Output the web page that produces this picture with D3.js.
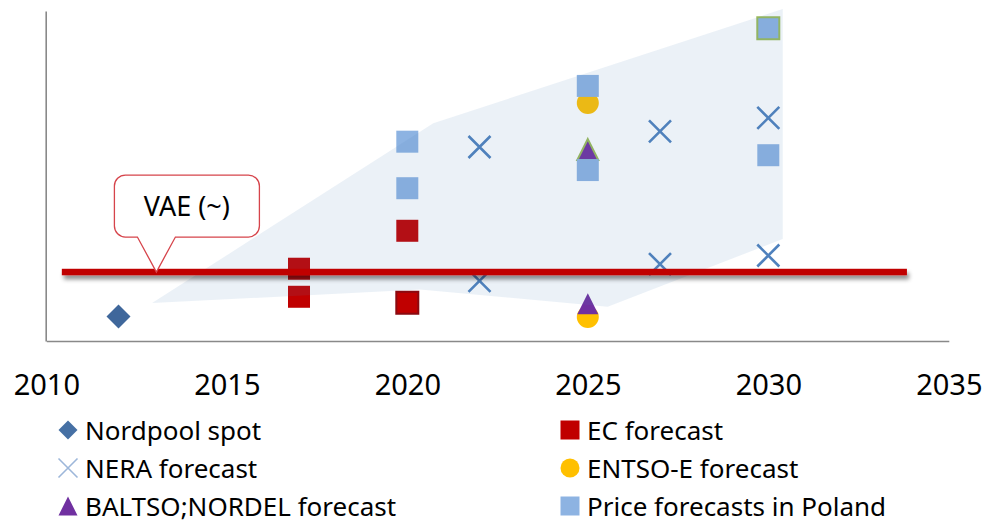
<!DOCTYPE html>
<html>
<head>
<meta charset="utf-8">
<script src="https://cdn.jsdelivr.net/npm/d3@7"></script>
<style>
  body { margin: 0; background: #fff; }
  text { font-family: "Noto Sans", sans-serif; fill: #000; }
</style>
</head>
<body>
<div id="container"></div>
<script>
'use strict'
// data (years on x, price level on y - no y labels shown in the original)
const xTicks = [2010, 2015, 2020, 2025, 2030, 2035];
const seriesNames = ["Nordpool spot", "EC forecast", "NERA forecast", "ENTSO-E forecast", "BALTSO;NORDEL forecast", "Price forecasts in Poland"];
const nordpool = [[2012, 7.4]];
const ecForecast = [[2017, 21.9], [2017, 13.4], [2020, 33.4], [2020, 11.6]];
const neraForecast = [[2022, 58.8], [2022, 18.2], [2027, 63.5], [2027, 23.3], [2030, 67.6], [2030, 25.9]];
const entsoeForecast = [[2025, 72.1], [2025, 7.3]];
const baltsoForecast = [[2025, 58.0], [2025, 11.3]];
const polandForecast = [[2020, 60.4], [2020, 46.3], [2025, 77.3], [2025, 51.8], [2030, 94.8], [2030, 56.3]];
const vaeLevel = 20.9;
const vaeSpan = [2010.43, 2033.84];
const vaeLabel = "VAE (~)";
const rangeBand = [[2012.93, 11.5], [2020.72, 66.0], [2030.4, 100.6], [2030.4, 30.9], [2025.55, 10.4], [2020.35, 15.6]];

const w = 990;
const h = 524;

const svg = d3.select("#container")
              .append("svg")
              .attr("width", w)
              .attr("height", h);

//Scales
const xScale = d3.scaleLinear().domain([2010, 2035]).range([46.3, 948.8]);
const yScale = d3.scaleLinear().domain([0, 100]).range([341, 11]);

//marker shapes, centred on 0,0
function shape(kind, s) {
    if (kind === "square") return `M${-s},${-s}h${2*s}v${2*s}h${-2*s}Z`;
    if (kind === "diamond") return `M0,${-s}L${s},0L0,${s}L${-s},0Z`;
    if (kind === "triangle") return `M0,${-s}L${s},${s}L${-s},${s}Z`;
    if (kind === "x") return `M${-s},${-s}L${s},${s}M${s},${-s}L${-s},${s}`;
    return d3.arc()({innerRadius: 0, outerRadius: s, startAngle: 0, endAngle: 2 * Math.PI});
}

const series = [
    {data: nordpool,       kind: "diamond",  size: 12,   fill: "#3F679B", legendFill: "#4670A4"},
    {data: ecForecast,     kind: "square",   size: 11,   fill: "#C00000", legendFill: "#C00000"},
    {data: neraForecast,   kind: "x",        size: 11,   stroke: "#4F81BD", legendStroke: "#9DB7DA"},
    {data: entsoeForecast, kind: "circle",   size: 11,   fill: "#FFC000", legendFill: "#FFC000"},
    {data: baltsoForecast, kind: "triangle", size: 10.5, fill: "#7030A0", legendFill: "#7030A0"},
    {data: polandForecast, kind: "square",   size: 11,   fill: "#8DB3E2", legendFill: "#8DB3E2"}
];

// a few points in the original have an outline
function outline(si, d) {
    if (si === 1 && d[0] === 2020 && d[1] < 20) return "#8B0A10";
    if (si === 4 && d[1] > 40) return "#9BBB59";
    if (si === 5 && d[1] > 90) return "#9BBB59";
    return null;
}

//Axes
const xAxis = d3.axisBottom(xScale).tickValues(xTicks).tickFormat(d3.format("d")).tickSize(0).tickSizeOuter(0);
const gx = svg.append("g").attr("transform", "translate(0," + yScale.range()[0] + ")").call(xAxis);
gx.select(".domain").attr("stroke", "#898989").attr("stroke-width", 1.6);
gx.selectAll("text").attr("y", 54).attr("dy", 0)
  .style("font-size", "29px").style("font-family", "'Noto Sans', sans-serif").attr("fill", "#000");

const yAxis = d3.axisLeft(yScale).tickValues([]).tickSizeOuter(0);
const gy = svg.append("g").attr("transform", "translate(" + (xScale.range()[0] - 0.6) + ",0)").call(yAxis);
gy.select(".domain").attr("stroke", "#898989").attr("stroke-width", 1.6);

//Points
series.forEach((s, si) => {
    svg.append("g").selectAll("path")
       .data(s.data)
       .enter()
       .append("path")
       .attr("transform", d => "translate(" + xScale(d[0]) + "," + yScale(d[1]) + ")")
       .attr("d", shape(s.kind, s.size))
       .attr("fill", s.kind === "x" ? "none" : s.fill)
       .attr("stroke", d => s.kind === "x" ? s.stroke : (outline(si, d) || "none"))
       .attr("stroke-width", s.kind === "x" ? 2.6 : 2);
});

//shaded range, laid over the points
svg.append("path")
   .datum(rangeBand)
   .attr("d", d3.line().x(d => xScale(d[0])).y(d => yScale(d[1])).curve(d3.curveLinearClosed))
   .attr("fill", "#4F81BD")
   .attr("fill-opacity", 0.115);

//VAE line with shadow (drawn as a thin rect so the filter has a real box)
const defs = svg.append("defs");
const f = defs.append("filter").attr("id", "shadow")
              .attr("filterUnits", "userSpaceOnUse")
              .attr("x", 0).attr("y", 0).attr("width", w).attr("height", h);
f.append("feDropShadow").attr("dx", 2).attr("dy", 4).attr("stdDeviation", 2)
 .attr("flood-color", "#000").attr("flood-opacity", 0.45);

const lineW = 6.5;
svg.append("rect")
   .attr("x", xScale(vaeSpan[0]))
   .attr("width", xScale(vaeSpan[1]) - xScale(vaeSpan[0]))
   .attr("y", yScale(vaeLevel) - lineW / 2)
   .attr("height", lineW)
   .attr("fill", "#C00000")
   .attr("filter", "url(#shadow)");

//callout
const tipX = xScale(2013.05);
const tipY = yScale(vaeLevel);
const bx = tipX - 42, by = tipY - 97, bw = 145, bh = 62, r = 11;
const callout = d3.path();
callout.moveTo(bx + r, by);
callout.lineTo(bx + bw - r, by);
callout.arcTo(bx + bw, by, bx + bw, by + r, r);
callout.lineTo(bx + bw, by + bh - r);
callout.arcTo(bx + bw, by + bh, bx + bw - r, by + bh, r);
callout.lineTo(tipX + 19, by + bh);
callout.lineTo(tipX, tipY);
callout.lineTo(tipX - 19, by + bh);
callout.lineTo(bx + r, by + bh);
callout.arcTo(bx, by + bh, bx, by + bh - r, r);
callout.lineTo(bx, by + r);
callout.arcTo(bx, by, bx + r, by, r);
callout.closePath();
svg.append("path").attr("d", callout.toString())
   .attr("fill", "#fff").attr("stroke", "#D6444B").attr("stroke-width", 1.3);
svg.append("text").text(vaeLabel)
   .attr("x", bx + bw / 2).attr("y", by + 41)
   .attr("text-anchor", "middle").style("font-size", "27px");

//Legend
const legend = svg.append("g");
series.forEach((s, i) => {
    const lx = i % 2 === 0 ? 68 : 570;
    const ly = 430 + Math.floor(i / 2) * 38;
    legend.append("path")
          .attr("transform", "translate(" + lx + "," + ly + ")")
          .attr("d", shape(s.kind, 9.5))
          .attr("fill", s.kind === "x" ? "none" : s.legendFill)
          .attr("stroke", s.kind === "x" ? s.legendStroke : "none")
          .attr("stroke-width", 1.6);
    legend.append("text").text(seriesNames[i])
          .attr("x", lx + 17).attr("y", ly + 9.5)
          .style("font-size", "26px");
});
</script>
</body>
</html>
